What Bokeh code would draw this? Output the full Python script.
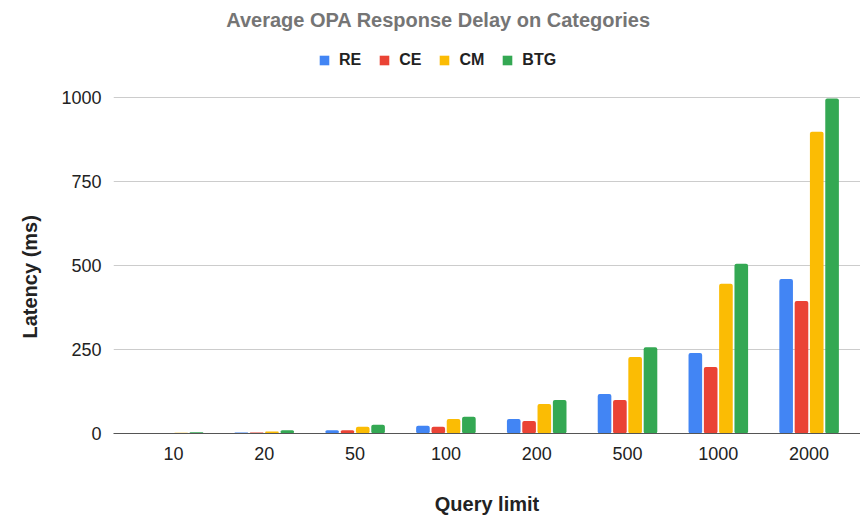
from bokeh.plotting import figure
from bokeh.models import (Range1d, FixedTicker, Legend, LegendItem, ColumnDataSource,
                          Label, Title)
from bokeh.transform import dodge
from bokeh.embed import file_html
from bokeh.resources import INLINE

categories = ["10", "20", "50", "100", "200", "500", "1000", "2000"]
series_names = ["RE", "CE", "CM", "BTG"]
re_vals = [1, 3, 10, 23, 43, 118, 240, 460]
ce_vals = [1, 3, 10, 20, 37, 100, 198, 395]
cm_vals = [2, 6, 20, 43, 88, 228, 446, 899]
btg_vals = [4, 10, 26, 50, 100, 257, 506, 998]
colors = ["#4285F4", "#EA4335", "#FBBC04", "#34A853"]
y_ticks = [0, 250, 500, 750, 1000]

FONT = "Liberation Sans"
idx = list(range(len(categories)))

# frame spans whole height above the x axis; value axis tops out at 1000 (ticks)
p = figure(width=860, height=519, output_backend="svg", toolbar_location=None,
           title=None,
           x_range=Range1d(-0.661, 7.566), y_range=Range1d(0, 1290),
           min_border_left=113, min_border_right=0, min_border_top=0,
           min_border_bottom=86)

source = ColumnDataSource(dict(x=idx, RE=re_vals, CE=ce_vals, CM=cm_vals, BTG=btg_vals))
offsets = [-0.253, -0.084, 0.084, 0.253]
items = []
for name, col, off in zip(series_names, colors, offsets):
    r = p.vbar(x=dodge("x", off), top=name, width=0.15, source=source,
               fill_color=col, line_color=None, border_radius=2)
    items.append(LegendItem(label=name, renderers=[r]))

legend = Legend(items=items, orientation="horizontal", location=(205, 364),
                glyph_width=12, glyph_height=12, label_text_font_size="16px",
                label_text_font_style="bold", label_text_color="#222222",
                label_text_font=FONT, label_standoff=9, spacing=17, padding=0,
                margin=0, border_line_color=None, background_fill_alpha=0)
p.add_layout(legend)

title = Label(x=325, y=414, x_units="screen", y_units="screen",
              text="Average OPA Response Delay on Categories",
              text_align="center", text_baseline="middle",
              text_font=FONT, text_font_size="20px", text_font_style="bold",
              text_color="#757575")
p.add_layout(title)

ytitle = Title(text="Latency (ms)", align="left", offset=95, standoff=32,
               vertical_align="top",
               text_font=FONT, text_font_size="20px", text_font_style="bold",
               text_color="#222222")
p.add_layout(ytitle, "left")

p.xaxis.ticker = FixedTicker(ticks=idx)
p.xaxis.major_label_overrides = {i: c for i, c in enumerate(categories)}
p.yaxis.ticker = FixedTicker(ticks=y_ticks)
for ax in (p.xaxis, p.yaxis):
    ax.major_tick_line_color = None
    ax.minor_tick_line_color = None
    ax.major_label_text_font_size = "18px"
    ax.major_label_text_font = FONT
    ax.major_label_text_color = "#222222"
    ax.axis_label_text_font = FONT
    ax.axis_label_text_font_size = "20px"
    ax.axis_label_text_font_style = "bold"
    ax.axis_label_text_color = "#222222"
p.xaxis.axis_label = "Query limit"
p.xaxis.major_label_standoff = 7
p.xaxis.axis_label_standoff = 30
p.yaxis.major_label_standoff = 6
p.yaxis.axis_line_color = None
p.xaxis.axis_line_color = "#555555"

p.xgrid.visible = False
p.ygrid.grid_line_color = "#cccccc"
p.outline_line_color = None

open("out.html", "w").write(file_html(p, INLINE))
